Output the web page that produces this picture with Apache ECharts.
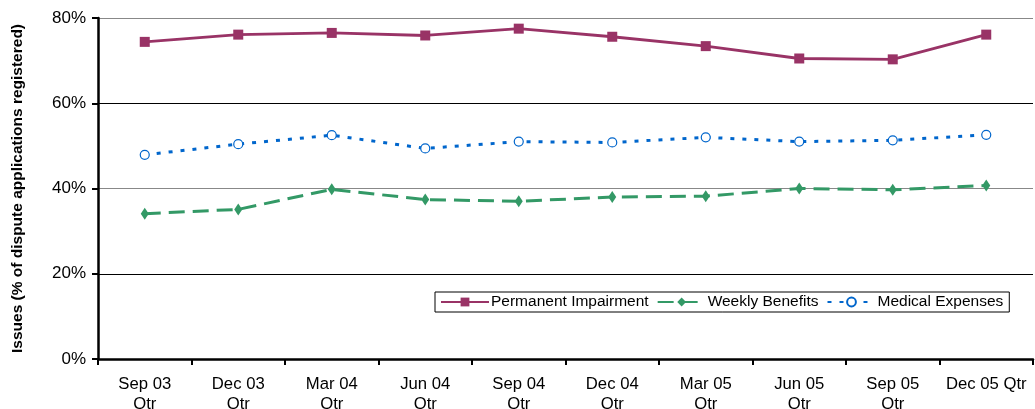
<!DOCTYPE html>
<html>
<head>
<meta charset="utf-8">
<script src="https://cdn.jsdelivr.net/npm/echarts@6/dist/echarts.min.js"></script>
<style>
html,body{margin:0;padding:0;background:#fff;}
#c{width:1035px;height:409px;}
</style>
</head>
<body>
<div id="c"></div>
<script>
const categories = ['Sep 03\nQtr','Dec 03\nQtr','Mar 04\nQtr','Jun 04\nQtr','Sep 04\nQtr','Dec 04\nQtr','Mar 05\nQtr','Jun 05\nQtr','Sep 05\nQtr','Dec 05 Qtr'];
const permanentImpairment = [74.4, 76.1, 76.5, 75.9, 77.5, 75.6, 73.4, 70.5, 70.3, 76.1];
const weeklyBenefits = [34.1, 35.1, 39.8, 37.4, 37.0, 38.0, 38.2, 40.0, 39.7, 40.7];
const medicalExpenses = [47.9, 50.4, 52.5, 49.4, 51.0, 50.8, 52.0, 51.0, 51.3, 52.6];
const seriesNames = ['Permanent Impairment','Weekly Benefits','Medical Expenses'];
const yTicks = [0, 20, 40, 60, 80];

const FONT = 'Liberation Sans, Arial, sans-serif';
const chart = echarts.init(document.getElementById('c'), null, {renderer:'canvas'});
chart.setOption({
  animation:false,
  backgroundColor:'#fff',
  grid:{left:98,right:2,top:18,bottom:50,containLabel:false,outerBoundsMode:'none'},
  legend:{
    left:435, top:292, width:700,
    data:seriesNames,
    backgroundColor:'#fff', borderColor:'#000', borderWidth:1,
    padding:[2,6,2,5], itemGap:8, itemWidth:48, itemHeight:11,
    textStyle:{fontFamily:FONT,fontSize:15.5,color:'#000',padding:[0,0,0,-3]}
  },
  xAxis:{
    type:'category', data:categories, boundaryGap:true,
    axisLine:{lineStyle:{color:'#000',width:2.5}},
    axisTick:{show:true,length:6,lineStyle:{color:'#000',width:2}},
    axisLabel:{fontFamily:FONT,fontSize:16.7,color:'#000',margin:15,lineHeight:20,interval:0}
  },
  yAxis:{
    type:'value', min:yTicks[0], max:yTicks[yTicks.length-1], interval:20,
    name:'Issues (% of dispute applications registered)',
    nameLocation:'middle', nameGap:72,
    nameTextStyle:{fontFamily:FONT,fontSize:15.5,fontWeight:'bold',color:'#000'},
    axisLine:{show:true,lineStyle:{color:'#000',width:2.5}},
    axisTick:{show:true,length:6,lineStyle:{color:'#000',width:2}},
    axisLabel:{fontFamily:FONT,fontSize:17,color:'#000',margin:12,formatter:v=>v+'%'},
    splitLine:{show:true,lineStyle:{color:['#000','#000','#888','#000','#888'],width:1.2}}
  },
  series:[
    {name:seriesNames[0],type:'line',data:permanentImpairment,
     symbol:'rect',symbolSize:10,
     itemStyle:{color:'#993366'},lineStyle:{color:'#993366',width:2.8}},
    {name:seriesNames[1],type:'line',data:weeklyBenefits,
     symbol:'diamond',symbolSize:[8,12],
     itemStyle:{color:'#339966'},lineStyle:{color:'#339966',width:3,type:[16,8]}},
    {name:seriesNames[2],type:'line',data:medicalExpenses,
     symbol:'circle',symbolSize:9,showSymbol:true,
     itemStyle:{color:'#fff',borderColor:'#0066CC',borderWidth:1.2},
     lineStyle:{color:'#0066CC',width:3,type:[4,8]}}
  ]
});
</script>
</body>
</html>
